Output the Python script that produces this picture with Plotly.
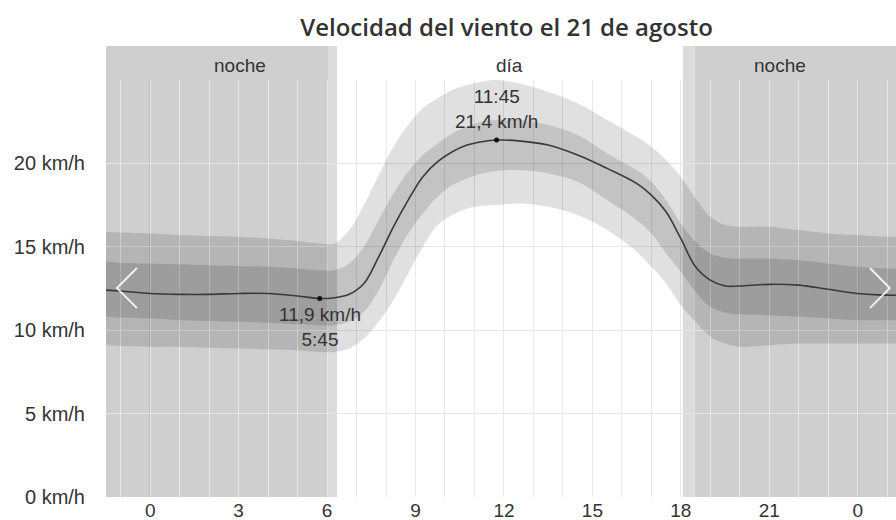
import plotly.graph_objects as go

# ---- data (hours of the day, km/h) ----
hours = [-1.5, -1, 0, 1, 2, 3, 4, 5, 5.75, 6.25, 6.75, 7.25, 7.75, 8.25, 8.75, 9.25, 9.75,
         10.25, 10.75, 11.25, 11.75, 12.5, 13.5, 14.5, 15.5, 16.5, 17.0, 17.5, 18.0, 18.5,
         19.0, 19.5, 20, 21, 22, 23, 24, 25, 25.5]
median = [12.4, 12.35, 12.2, 12.15, 12.15, 12.2, 12.2, 12.05, 11.9, 11.95, 12.15, 12.8, 14.4,
          16.2, 17.8, 19.2, 20.1, 20.7, 21.1, 21.3, 21.4, 21.35, 21.1, 20.5, 19.7, 18.8, 18.1,
          17.1, 15.5, 13.8, 13.0, 12.65, 12.65, 12.75, 12.7, 12.45, 12.2, 12.1, 12.1]
inner_hi = [14.1, 14.05, 14.0, 13.95, 13.9, 13.85, 13.8, 13.7, 13.6, 13.6, 14.0, 15.0, 16.6,
            18.2, 19.5, 20.5, 21.2, 21.8, 22.2, 22.5, 22.6, 22.6, 22.3, 21.7, 20.6, 19.6, 18.9,
            17.8, 16.4, 15.3, 14.6, 14.35, 14.3, 14.3, 14.2, 14.0, 13.8, 13.7, 13.7]
inner_lo = [10.8, 10.75, 10.7, 10.6, 10.55, 10.5, 10.45, 10.35, 10.3, 10.3, 10.5, 11.1, 12.4,
            14.2, 15.8, 17.0, 18.0, 18.7, 19.1, 19.4, 19.55, 19.6, 19.4, 18.9, 17.8, 16.6, 15.8,
            14.6, 13.5, 12.3, 11.4, 11.05, 10.95, 10.9, 10.8, 10.7, 10.6, 10.6, 10.6]
outer_hi = [15.9, 15.85, 15.8, 15.7, 15.65, 15.6, 15.5, 15.35, 15.2, 15.2, 16.0, 17.5, 19.3,
            21.0, 22.3, 23.3, 23.9, 24.4, 24.7, 24.9, 25.0, 24.8, 24.3, 23.6, 22.6, 21.6, 21.0,
            20.2, 19.2, 17.9, 16.8, 16.3, 16.2, 16.2, 16.0, 15.8, 15.7, 15.6, 15.6]
outer_lo = [9.1, 9.05, 9.0, 9.0, 8.95, 8.9, 8.85, 8.8, 8.7, 8.7, 8.9, 9.5, 10.5, 11.8, 13.4,
            15.0, 16.3, 16.9, 17.3, 17.45, 17.5, 17.6, 17.4, 16.9, 16.0, 14.7, 13.8, 12.8, 11.5,
            10.5, 9.6, 9.2, 9.0, 9.1, 9.2, 9.2, 9.2, 9.2, 9.2]

# extremes
min_time, min_speed, min_label = 5.75, 11.9, "11,9 km/h<br>5:45"
max_time, max_speed, max_label = 11.75, 21.4, "11:45<br>21,4 km/h"

# night / twilight periods (hours)
night_periods = [(-1.5, 6.03), (18.47, 25.5)]
twilight_periods = [(6.03, 6.34), (18.07, 18.47)]
midnights = [0, 24]
period_labels = ["noche", "día", "noche"]
period_label_x = [3.05, 12.2, 21.36]

x_tickvals = [0, 3, 6, 9, 12, 15, 18, 21, 24]
x_ticktext = ["0", "3", "6", "9", "12", "15", "18", "21", "0"]
y_tickvals = [0, 5, 10, 15, 20]
y_ticktext = ["0 km/h", "5 km/h", "10 km/h", "15 km/h", "20 km/h"]

title = "Velocidad del viento el 21 de agosto"

TXT = "#333333"
fig = go.Figure()

# outer band
fig.add_trace(go.Scatter(x=hours, y=outer_lo, mode="lines", line=dict(width=0, shape="spline"),
                         showlegend=False, hoverinfo="skip"))
fig.add_trace(go.Scatter(x=hours, y=outer_hi, mode="lines", line=dict(width=0, shape="spline"),
                         fill="tonexty", fillcolor="rgba(0,0,0,0.12)", showlegend=False,
                         hoverinfo="skip"))
# inner band
fig.add_trace(go.Scatter(x=hours, y=inner_lo, mode="lines", line=dict(width=0, shape="spline"),
                         showlegend=False, hoverinfo="skip"))
fig.add_trace(go.Scatter(x=hours, y=inner_hi, mode="lines", line=dict(width=0, shape="spline"),
                         fill="tonexty", fillcolor="rgba(0,0,0,0.13)", showlegend=False,
                         hoverinfo="skip"))
# median line
fig.add_trace(go.Scatter(x=hours, y=median, mode="lines",
                         line=dict(color="#3a3a3a", width=1.6, shape="spline"),
                         showlegend=False, hoverinfo="skip"))
# extreme dots
fig.add_trace(go.Scatter(x=[min_time, max_time], y=[min_speed, max_speed], mode="markers",
                         marker=dict(color="#111111", size=5), showlegend=False,
                         hoverinfo="skip"))

shapes = []
for a, b in night_periods:
    shapes.append(dict(type="rect", xref="x", yref="paper", x0=a, x1=b, y0=0, y1=1.0815,
                       fillcolor="#cfcfcf", line=dict(width=0), layer="below"))
for a, b in twilight_periods:
    shapes.append(dict(type="rect", xref="x", yref="paper", x0=a, x1=b, y0=0, y1=1.0815,
                       fillcolor="#dcdcdc", line=dict(width=0), layer="below"))
for m in midnights:
    shapes.append(dict(type="line", xref="x", yref="paper", x0=m, x1=m, y0=0, y1=1,
                       line=dict(color="#8c8c8c", width=1), layer="between"))
# navigation chevrons (decoration)
shapes.append(dict(type="path", xref="paper", yref="paper",
                   path="M 0.0392 0.549 L 0.0139 0.501 L 0.0392 0.453",
                   line=dict(color="rgba(255,255,255,0.85)", width=2), layer="above"))
shapes.append(dict(type="path", xref="paper", yref="paper",
                   path="M 0.967 0.549 L 0.992 0.501 L 0.967 0.453",
                   line=dict(color="rgba(255,255,255,0.85)", width=2), layer="above"))

annotations = []
for lbl, xx in zip(period_labels, period_label_x):
    annotations.append(dict(x=xx, y=1.034, xref="x", yref="paper", text=lbl, showarrow=False,
                            font=dict(size=19, color=TXT), yanchor="middle"))
annotations.append(dict(x=min_time, y=min_speed, xref="x", yref="y", text=min_label,
                        showarrow=False, yshift=-28, yanchor="middle",
                        font=dict(size=19, color=TXT)))
annotations.append(dict(x=max_time, y=max_speed, xref="x", yref="y", text=max_label,
                        showarrow=False, yshift=31, yanchor="middle",
                        font=dict(size=19, color=TXT)))

fig.update_layout(
    width=896, height=520,
    margin=dict(l=106, r=0, t=80, b=23),
    paper_bgcolor="white", plot_bgcolor="white",
    font=dict(family="Liberation Sans, Arial, sans-serif", size=19, color=TXT),
    title=dict(text=title, x=0.507, xref="paper", xanchor="center",
               y=1 - 28 / 520, yanchor="middle", yref="container",
               font=dict(family="Open Sans, sans-serif", size=24, color=TXT, weight=600)),
    shapes=shapes, annotations=annotations, hovermode=False,
)
fig.update_xaxes(range=[-1.5, 25.3], tickvals=x_tickvals, ticktext=x_ticktext,
                 showgrid=True, gridcolor="#e9e9e9", gridwidth=1, zeroline=False,
                 showline=False, ticks="", automargin=False,
                 minor=dict(dtick=1, tick0=0, showgrid=True, gridcolor="#e9e9e9", gridwidth=1),
                 tickfont=dict(size=19, color=TXT))
fig.update_yaxes(range=[0, 25], tickvals=y_tickvals, ticktext=y_ticktext,
                 showgrid=True, gridcolor="#e6e6e6", zeroline=False, showline=False,
                 ticks="", ticklabelstandoff=20, automargin=False,
                 tickfont=dict(size=20, color=TXT))

# remove the default page margin so the figure fills the window exactly
fig.write_html("out.html", config={"displayModeBar": False},
               post_script="document.body.style.margin='0';document.body.style.overflow='hidden';")
